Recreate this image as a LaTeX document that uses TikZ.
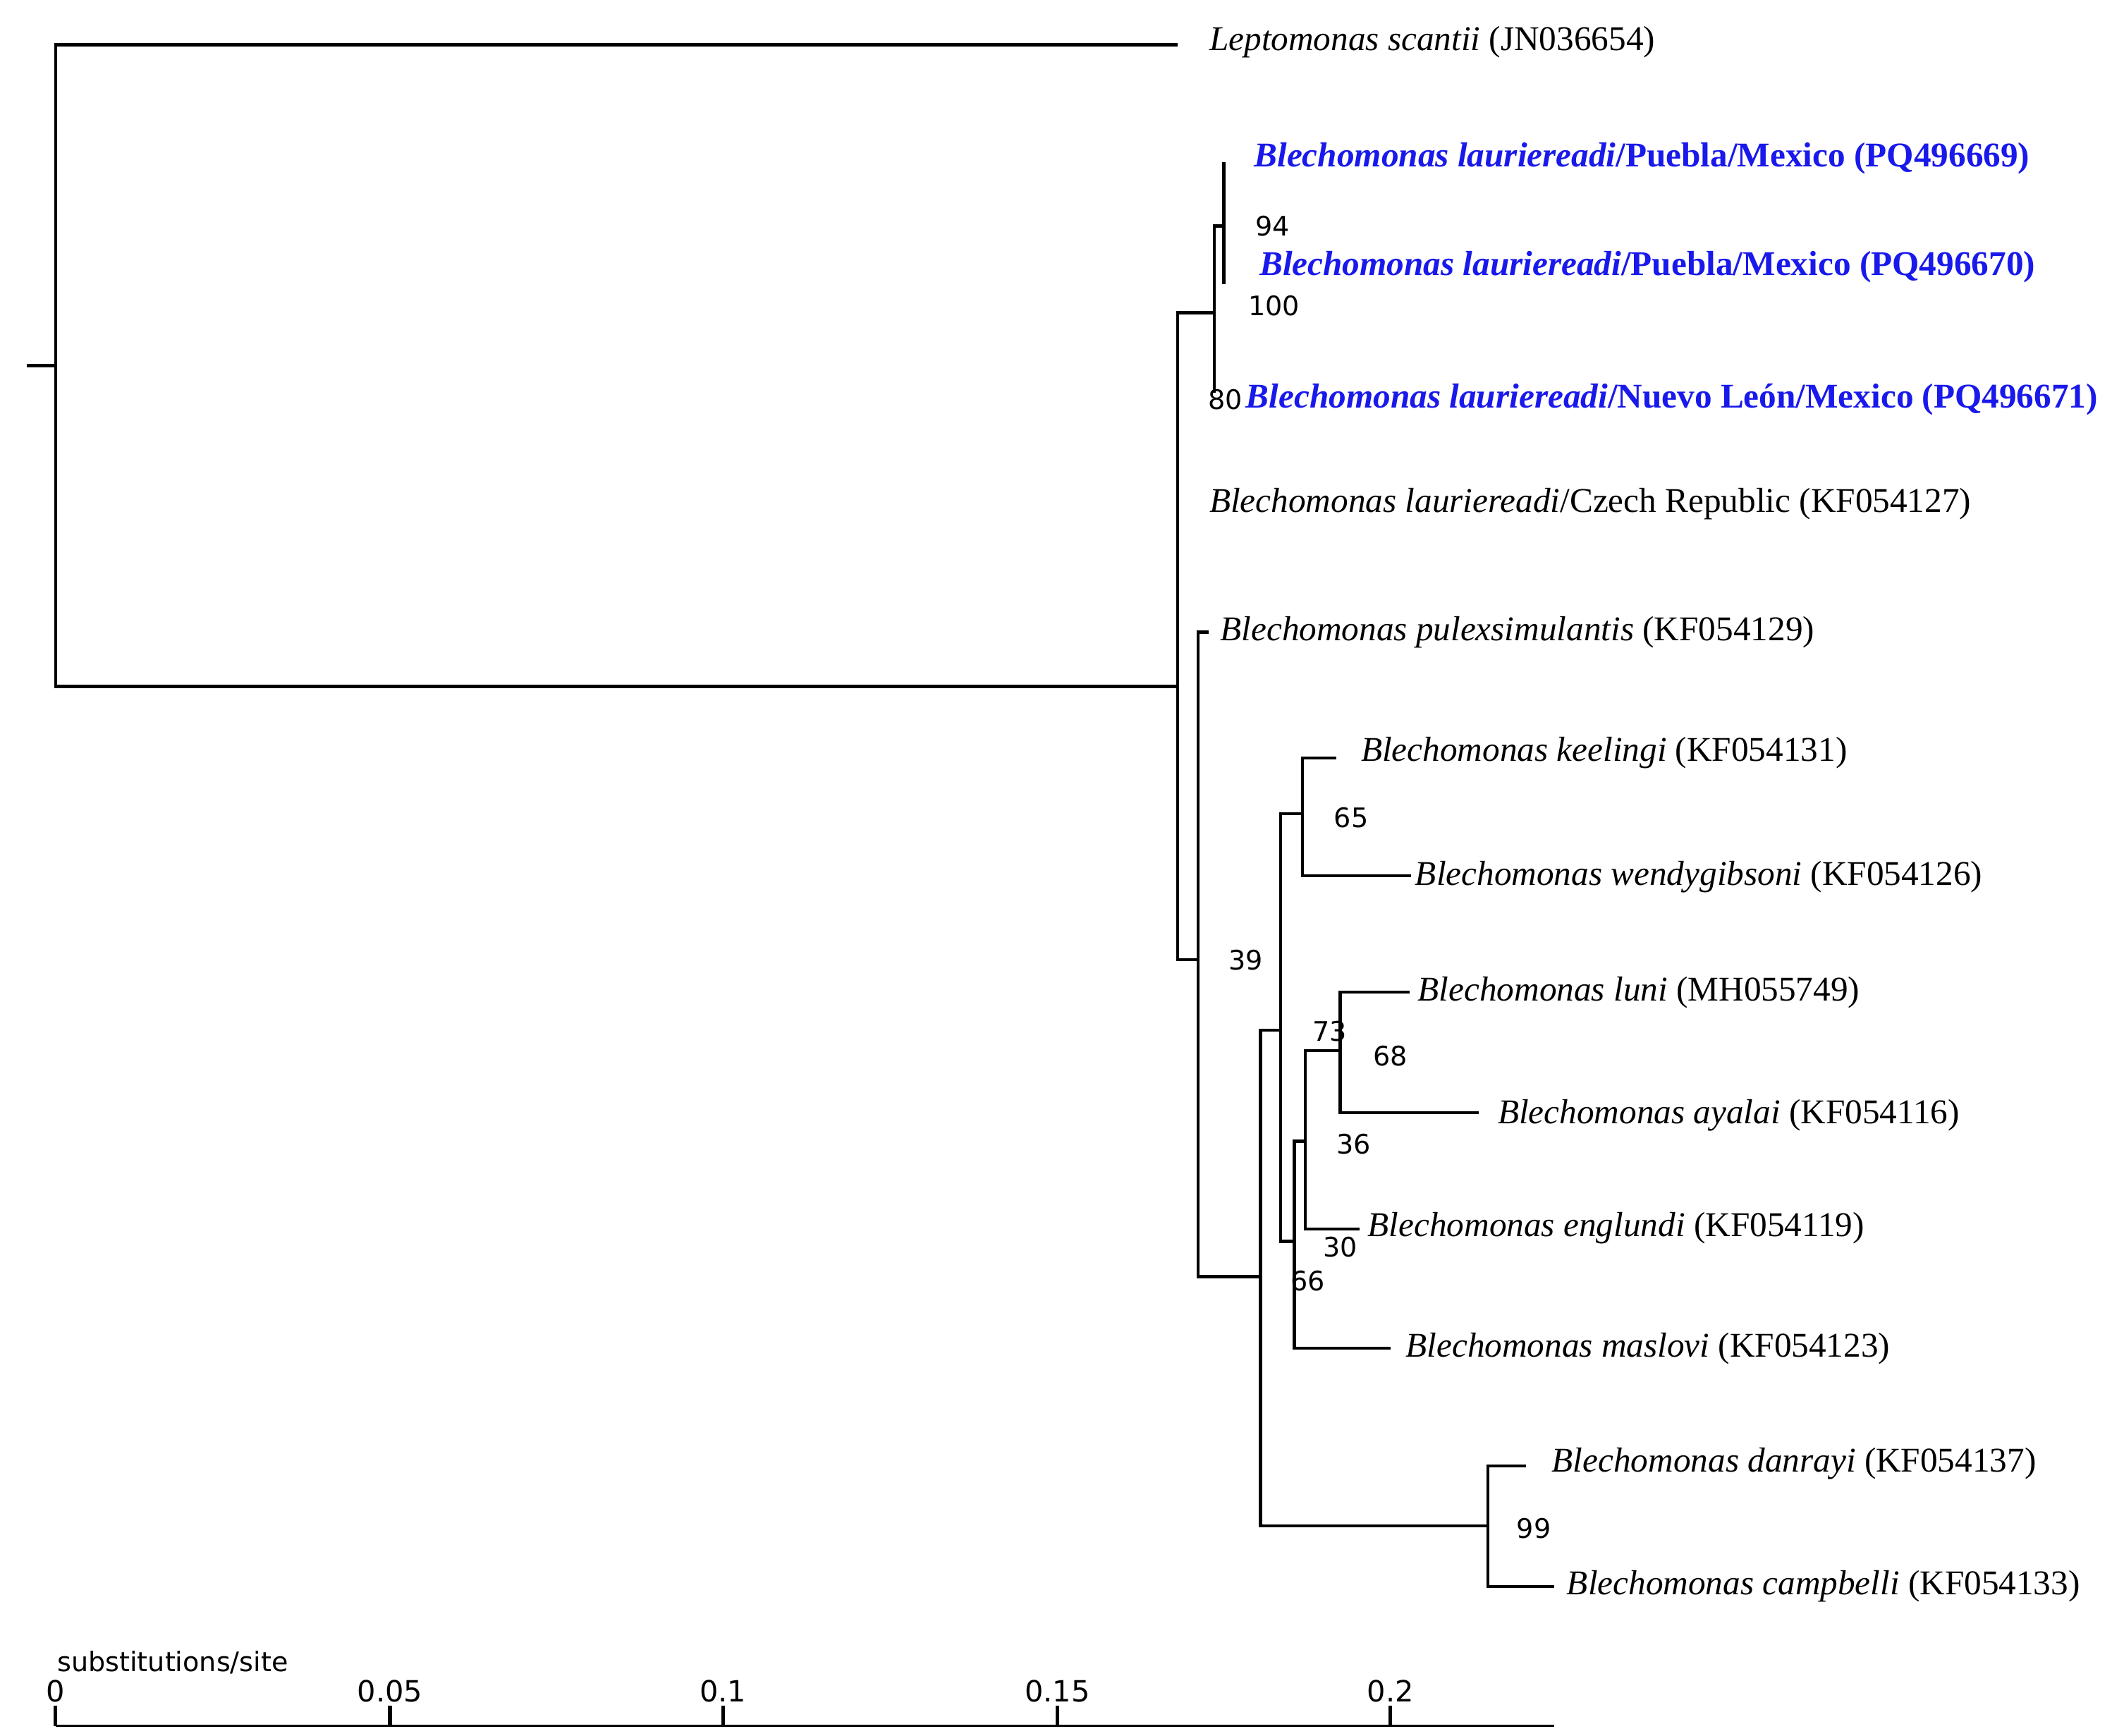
\documentclass[tikz,border=0pt]{standalone}
\usepackage{fontspec}
\setmainfont{Liberation Serif}
\newfontfamily\numfont{DejaVu Sans}
\definecolor{tblue}{RGB}{25,25,235}
\begin{document}
\begin{tikzpicture}[x=0.02cm,y=-0.02cm,
  br/.style={line width=1.3pt},
  tx/.style={anchor=west,inner sep=0pt,font=\fontsize{14.6}{16}\selectfont},
  bl/.style={tx,text=tblue,font=\fontsize{14.6}{16}\selectfont\bfseries},
  bs/.style={anchor=center,inner sep=0pt,font=\numfont\fontsize{11.3}{13}\selectfont},
  ax/.style={anchor=center,inner sep=0pt,font=\numfont\fontsize{12.3}{14}\selectfont}]
\useasboundingbox (0,0) rectangle (1560,1282);
% tree
\draw[br] (20,270)--(41,270);
\draw[br] (870,33)--(41,33)--(41,507)--(870,507);
\draw[br] (897,231)--(870,231)--(870,709)--(885,709);
\draw[br] (904,167)--(897,167)--(897,290);
\draw[br] (904,120)--(904,210);
\draw[br] (893,467)--(885,467)--(885,943)--(931,943);
\draw[br] (946,761)--(931,761)--(931,1127)--(1099,1127);
\draw[br] (1127,1083)--(1099,1083)--(1099,1172)--(1148,1172);
\draw[br] (962,601)--(946,601)--(946,917)--(956,917);
\draw[br] (987,560)--(962,560)--(962,647)--(1042,647);
\draw[br] (964,843)--(956,843)--(956,996)--(1027,996);
\draw[br] (990,776)--(964,776)--(964,908)--(1004,908);
\draw[br] (1041,733)--(990,733)--(990,822)--(1092,822);
% labels
\node[tx] (t1) at (893,31) {\textit{Leptomonas scantii} (JN036654)};
\node[bl] (t2) at (926,117) {\textit{Blechomonas lauriereadi}/Puebla/Mexico (PQ496669)};
\node[bl] (t3) at (930,197) {\textit{Blechomonas lauriereadi}/Puebla/Mexico (PQ496670)};
\node[bl] (t4) at (920,295) {\textit{Blechomonas lauriereadi}/Nuevo León/Mexico (PQ496671)};
\node[tx] (t5) at (893,372) {\textit{Blechomonas lauriereadi}/Czech Republic (KF054127)};
\node[tx] (t6) at (901,467) {\textit{Blechomonas pulexsimulantis} (KF054129)};
\node[tx] (t7) at (1005,556) {\textit{Blechomonas keelingi} (KF054131)};
\node[tx] (t8) at (1045,648) {\textit{Blechomonas wendygibsoni} (KF054126)};
\node[tx] (t9) at (1047,733) {\textit{Blechomonas luni} (MH055749)};
\node[tx] (t10) at (1106,824) {\textit{Blechomonas ayalai} (KF054116)};
\node[tx] (t11) at (1010,907) {\textit{Blechomonas englundi} (KF054119)};
\node[tx] (t12) at (1038,996) {\textit{Blechomonas maslovi} (KF054123)};
\node[tx] (t13) at (1146,1081) {\textit{Blechomonas danrayi} (KF054137)};
\node[tx] (t14) at (1157,1172) {\textit{Blechomonas campbelli} (KF054133)};
% bootstrap
\node[bs] (b1) at (940,167) {94};
\node[bs] (b2) at (941,226) {100};
\node[bs] (b3) at (905,295) {80};
\node[bs] (b4) at (920,709) {39};
\node[bs] (b5) at (998,604) {65};
\node[bs] (b6) at (982,762) {73};
\node[bs] (b7) at (1027,780) {68};
\node[bs] (b8) at (1000,845) {36};
\node[bs] (b9) at (990,921) {30};
\node[bs] (b10) at (966,946) {66};
\node[bs] (b11) at (1133,1129) {99};
% axis
\draw[line width=0.9pt] (41,1275)--(1148,1275);
\foreach \x/\l in {41/0,288/0.05,534/0.1,781/0.15,1027/0.2}{
  \draw[line width=1.6pt] (\x,1275)--(\x,1260);
  \node[ax] at (\x,1249) {\l};}
\node[anchor=west,inner sep=0pt,font=\numfont\fontsize{11.3}{13}\selectfont] (sub) at (42,1228) {substitutions/site};
\end{tikzpicture}
\end{document}
